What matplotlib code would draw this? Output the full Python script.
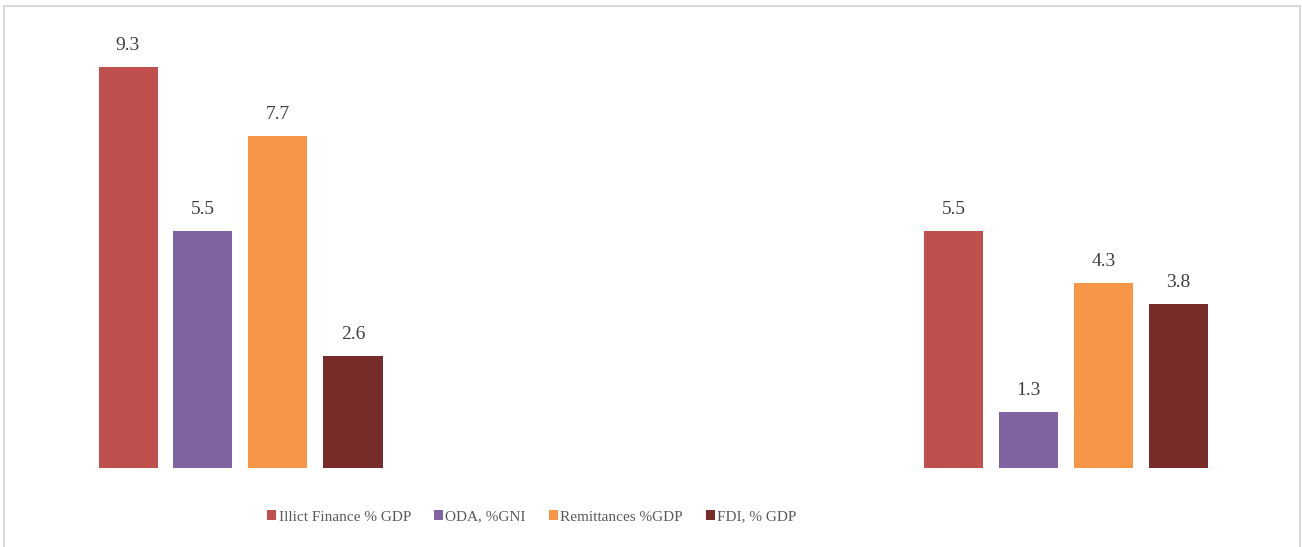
import matplotlib.pyplot as plt
import numpy as np
from matplotlib.patches import Rectangle

plt.rcParams['font.family'] = ['Liberation Serif', 'DejaVu Serif']

groups = ['Group A', 'Group B']
series = ['Illict Finance % GDP', 'ODA, %GNI', 'Remittances %GDP', 'FDI, % GDP']
values = [
    [9.3, 5.5],   # Illict Finance % GDP
    [5.5, 1.3],   # ODA, %GNI
    [7.7, 4.3],   # Remittances %GDP
    [2.6, 3.8],   # FDI, % GDP
]
colors = ['#c0504d', '#8064a2', '#f79646', '#772c2a']

fig = plt.figure(figsize=(13.02, 5.47), dpi=100)
ax = fig.add_axes([0.0, 0.1444, 1.0, 0.788])

x = np.arange(len(groups))
step = 75 / 825.5
width = 59 / 825.5
for i, (name, vals, color) in enumerate(zip(series, values, colors)):
    offs = (i - 1.5) * step
    bars = ax.bar(x + offs, vals, width, color=color, label=name)
    for bar, v in zip(bars, vals):
        ax.annotate(f'{v:.1f}', (bar.get_x() + bar.get_width() / 2, v),
                    xytext=(0, 13), textcoords='offset pixels',
                    ha='center', va='bottom', fontsize=14, color='#404040')

ax.set_xlim(-240.5 / 825.5, 1 + 236 / 825.5)
ax.set_ylim(0, 10)
ax.axis('off')

# light chart border
fig.patches.append(Rectangle((4 / 1302, -0.05), 1296 / 1302, 1.05 - 6 / 547,
                             transform=fig.transFigure, fill=False,
                             edgecolor='#d9d9d9', linewidth=1.5))

fig.legend(loc='center', bbox_to_anchor=(532 / 1302, 30 / 547), ncol=4, frameon=False,
           fontsize=11, labelcolor='#595959', handlelength=0.6, handleheight=0.6,
           handletextpad=0.15, columnspacing=1.5)

fig.savefig('out.png', dpi=100)
